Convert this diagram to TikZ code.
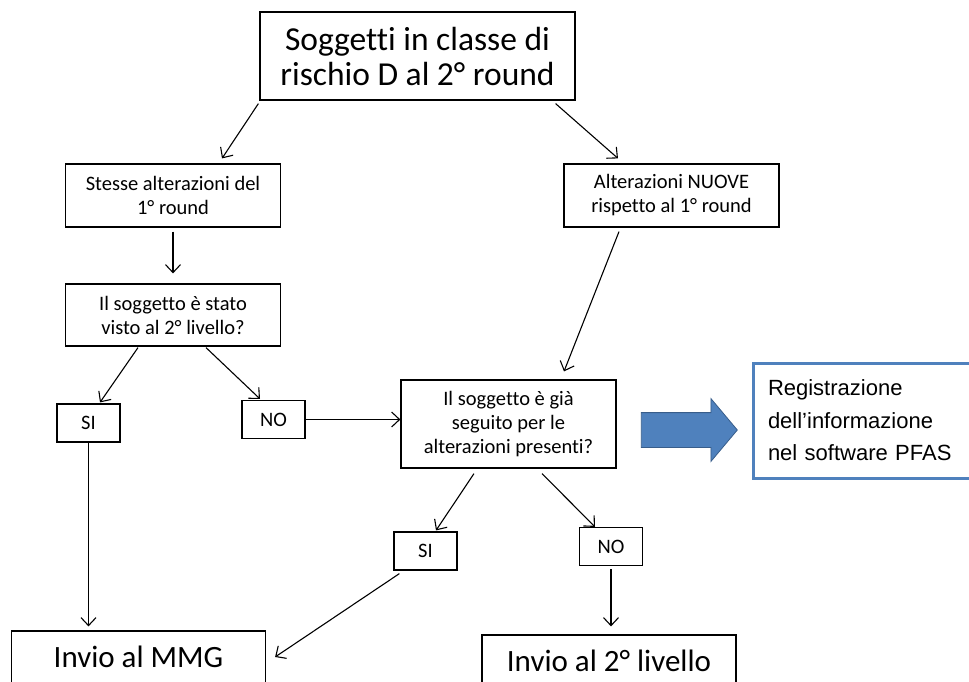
\documentclass[tikz,border=0pt]{standalone}
\usepackage{fontspec}
\setmainfont{Carlito}[Ligatures=NoCommon]
\newfontfamily\arialfont{Liberation Sans}
\usetikzlibrary{shapes.arrows, arrows.meta, positioning}

\definecolor{noteblue}{RGB}{79,129,189}
\definecolor{arrowedge}{RGB}{56,93,138}

\begin{document}
\begin{tikzpicture}[
    x=1pt, y=-1pt,
    bigbox/.style={
        rectangle,
        draw,
        line width=1.2pt,
        align=center,
        inner sep=0pt,
        font=\fontsize{33.5}{35}\selectfont
    },
    endbox/.style={
        bigbox,
        minimum width=254pt,
        minimum height=52pt,
        font=\fontsize{31}{35}\selectfont
    },
    box/.style={
        rectangle,
        draw,
        line width=1.2pt,
        align=center,
        inner sep=0pt,
        minimum width=215pt,
        font=\fontsize{20.5}{24}\selectfont
    },
    answer/.style={
        rectangle,
        draw,
        line width=1.2pt,
        inner sep=0pt,
        minimum width=63pt,
        minimum height=38pt,
        font=\fontsize{20.5}{24}\selectfont
    },
    note/.style={
        rectangle,
        draw=noteblue,
        line width=3pt,
        align=left,
        inner sep=0pt,
        text width=200pt,
        minimum width=230pt,
        minimum height=115pt,
        font=\arialfont\fontsize{22}{32.5}\selectfont
    },
    arrow/.style={
        -{Straight Barb[length=8pt, width=15pt]},
        line width=1.1pt
    }
]
\useasboundingbox (0,0) rectangle (969,681);

% Start
\node[bigbox, minimum width=315pt, minimum height=88pt] (top) at (417.5,56) {Soggetti in classe di\\rischio D al 2° round};

% First split
\node[box, minimum height=63pt] (stesse) at (173,195.5) {Stesse alterazioni del\\1° round};
\node[box, minimum height=63pt] (nuove) at (671.5,195.5) {Alterazioni NUOVE\\rispetto al 1° round};

% Questions
\node[box, minimum height=62pt] (visto) at (173,315) {Il soggetto è stato\\visto al 2° livello?};
\node[box, minimum height=88pt] (gia) at (508.5,424) {Il soggetto è già\\seguito per le\\alterazioni presenti?};

% Answers
\node[answer] (si1) at (88.5,423) {SI};
\node[answer] (no1) at (273.5,419.5) {NO};
\node[answer] (si2) at (425.5,551) {SI};
\node[answer] (no2) at (611,546.5) {NO};

% Outcomes
\node[endbox] (mmg) at (138.5,657) {Invio al MMG};
\node[endbox] (liv2) at (609,661) {Invio al 2° livello};

% Software note
\node[single arrow, fill=noteblue, draw=arrowedge, line width=0.8pt, inner xsep=0pt, inner ysep=17pt,
      minimum height=96pt, single arrow head extend=14pt, single arrow tip angle=100] (bigArrow) at (682,430) {};
\node[note] (pfas) at (868,420.5) {Registrazione\\dell’informazione\\nel software PFAS};

% Arrows
\draw[arrow] ([xshift=-1pt, yshift=-3pt]top.south west) -- ([xshift=49pt, yshift=5pt]stesse.north);
\draw[arrow] ([xshift=-20pt, yshift=-3pt]top.south east) -- ([xshift=-53.5pt, yshift=5pt]nuove.north);
\draw[arrow] ([yshift=-4pt]stesse.south) -- ([yshift=10pt]visto.north);
\draw[arrow] ([xshift=-35pt, yshift=-1pt]visto.south) -- ([xshift=11.5pt, yshift=1pt]si1.north);
\draw[arrow] ([xshift=33pt, yshift=-1pt]visto.south) -- ([xshift=-13.5pt, yshift=1pt]no1.north);
\draw[arrow] (no1.east) -- (no1.east -| gia.west);
\draw[arrow] ([xshift=-52.5pt, yshift=-4pt]nuove.south) -- ([xshift=55.5pt, yshift=8pt]gia.north);
\draw[arrow] ([xshift=-34.5pt, yshift=-5pt]gia.south) -- ([xshift=10.5pt, yshift=1pt]si2.north);
\draw[arrow] ([xshift=33.5pt, yshift=-5pt]gia.south) -- ([xshift=-16pt]no2.north);
\draw[arrow] (si1.south) -- ([yshift=4pt]si1.south |- mmg.north);
\draw[arrow] ([xshift=6pt, yshift=-3pt]si2.south west) -- ([xshift=9pt]mmg.east);
\draw[arrow] ([yshift=-3pt]no2.south) -- ([yshift=8pt]no2.south |- liv2.north);

\end{tikzpicture}
\end{document}
